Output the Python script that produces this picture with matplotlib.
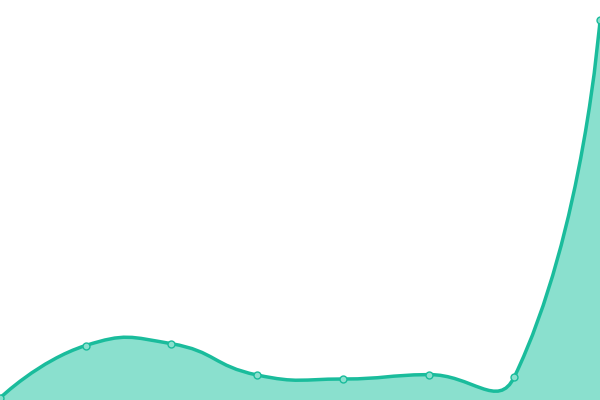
import numpy as np
import matplotlib.pyplot as plt
from matplotlib.path import Path
from matplotlib.patches import PathPatch

# data
categories = ['1', '2', '3', '4', '5', '6', '7', '8']
values = [2, 54.5, 56.3, 25, 21, 25.4, 23, 380]

line_color = '#1abc9c'
fill_color = '#8ae0ce'


def smooth_path(xs, ys, smooth=0.5):
    # echarts-like bezier smoothing
    pts = np.column_stack([xs, ys]).astype(float)
    n = len(pts)
    cps = []
    for i in range(n):
        if i == 0 or i == n - 1:
            cps.append((pts[i], pts[i]))
            continue
        d = pts[i + 1] - pts[i - 1]
        d0 = np.linalg.norm(pts[i] - pts[i - 1])
        d1 = np.linalg.norm(pts[i + 1] - pts[i])
        r = d0 / (d0 + d1)
        cps.append((pts[i] - d * smooth * r, pts[i] + d * smooth * (1 - r)))
    verts = [pts[0]]
    codes = [Path.MOVETO]
    for i in range(n - 1):
        verts += [cps[i][1], cps[i + 1][0], pts[i + 1]]
        codes += [Path.CURVE4] * 3
    return verts, codes


fig = plt.figure(figsize=(6, 4), dpi=100)
ax = fig.add_axes([0, 0, 1, 1])
ax.set_xlim(0, len(categories) - 1)
ax.set_ylim(0, 400)
ax.axis('off')

x = np.arange(len(categories))
# smoothing in pixel-like space so curve shape matches
sx = x * (600 / (len(categories) - 1))
verts, codes = smooth_path(sx, np.array(values, float))
verts = [(vx * (len(categories) - 1) / 600, vy) for vx, vy in verts]

fill_verts = verts + [(x[-1], 0), (x[0], 0), verts[0]]
fill_codes = codes + [Path.LINETO, Path.LINETO, Path.CLOSEPOLY]
ax.add_patch(PathPatch(Path(fill_verts, fill_codes), facecolor=fill_color, edgecolor='none'))
ax.add_patch(PathPatch(Path(verts, codes), facecolor='none', edgecolor=line_color, lw=2.5))
ax.plot(x, values, 'o', ms=5, mfc=fill_color, mec=line_color, mew=1, clip_on=False)

fig.savefig('out.png')
